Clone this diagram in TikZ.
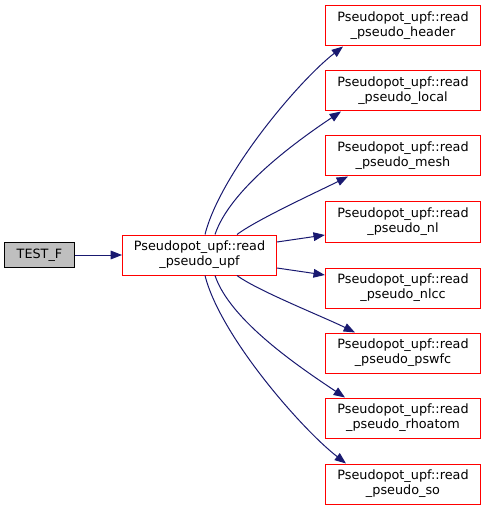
\documentclass[tikz,border=0pt]{standalone}
\usepackage{fontspec}
\setmainfont{DejaVu Sans}
\usetikzlibrary{arrows.meta,positioning,calc}
\definecolor{edgeblue}{HTML}{191970}
\definecolor{nodegray}{HTML}{BFBFBF}
\tikzset{
	fn/.style={draw=red, line width=0.75pt, minimum width=116.5pt, minimum height=30pt, align=center, inner sep=0pt, font=\fontsize{9.6}{11.25}\selectfont},
	rootfn/.style={draw=black, fill=nodegray, line width=0.75pt, minimum width=53pt, minimum height=18.75pt, inner sep=0pt, font=\fontsize{9.6}{11.25}\selectfont},
	call/.style={draw=edgeblue, line width=0.75pt, -{Triangle[length=8.5pt,width=6.5pt]}}
}
\begin{document}
\begin{tikzpicture}[x=0.75pt,y=-0.75pt]
		\useasboundingbox (0,0) rectangle (485,509); % picture frame
		
		\node[rootfn] (test) at (39.5,255) {TEST\_F}; % caller
		\node[fn,minimum width=115.5pt] (upf) at (199.5,255) {Pseudopot\_upf::read\\\_pseudo\_upf}; % called function
		
		\node[fn] (header)  at (403,26)  {Pseudopot\_upf::read\\\_pseudo\_header};
		\node[fn] (local)   at (403,91)  {Pseudopot\_upf::read\\\_pseudo\_local};
		\node[fn] (mesh)    at (403,156) {Pseudopot\_upf::read\\\_pseudo\_mesh};
		\node[fn] (nl)      at (403,222) {Pseudopot\_upf::read\\\_pseudo\_nl};
		\node[fn] (nlcc)    at (403,288) {Pseudopot\_upf::read\\\_pseudo\_nlcc};
		\node[fn] (pswfc)   at (403,353) {Pseudopot\_upf::read\\\_pseudo\_pswfc};
		\node[fn] (rhoatom) at (403,418) {Pseudopot\_upf::read\\\_pseudo\_rhoatom};
		\node[fn] (so)      at (403,484) {Pseudopot\_upf::read\\\_pseudo\_so};
		
		\draw[call] (test) -- (upf); % TEST_F calls read_pseudo_upf
		
		\draw[call] ($(upf.north)+(5.5,0)$) .. controls ($(upf.north)+(20.5,-60)$) and ($(header.south)+(-105,35)$) .. ($(header.south)+(-60,0)$); % header
		\draw[call] ($(upf.north)+(15.5,0)$) .. controls ($(upf.north)+(30.5,-45)$) and ($(local.south)+(-107,30)$) .. ($(local.south)+(-62,0)$); % local
		\draw[call] ($(upf.north)+(37.5,0)$) .. controls ($(upf.north)+(57.5,-15)$) and ($(mesh.south)+(-85,15)$) .. ($(mesh.south)+(-55,0)$); % mesh
		\draw[call] ($(upf.east)+(0,-13)$) -- ($(nl.west)+(0,13)$); % nl
		\draw[call] ($(upf.east)+(0,13)$) -- ($(nlcc.west)+(0,-13)$); % nlcc
		\draw[call] ($(upf.south)+(37.5,0)$) .. controls ($(upf.south)+(57.5,15)$) and ($(pswfc.north)+(-78,-15)$) .. ($(pswfc.north)+(-48,0)$); % pswfc
		\draw[call] ($(upf.south)+(15.5,0)$) .. controls ($(upf.south)+(30.5,45)$) and ($(rhoatom.north)+(-103,-30)$) .. ($(rhoatom.north)+(-58,0)$); % rhoatom
		\draw[call] ($(upf.south)+(5.5,0)$) .. controls ($(upf.south)+(20.5,60)$) and ($(so.north)+(-102,-35)$) .. ($(so.north)+(-57,0)$); % so
		
\end{tikzpicture}
\end{document}
